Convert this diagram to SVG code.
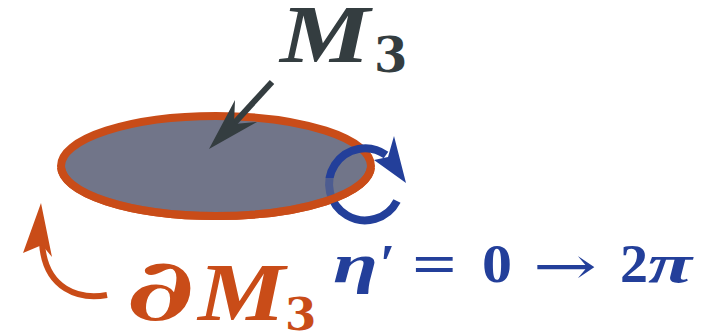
<svg xmlns="http://www.w3.org/2000/svg" width="708" height="336" viewBox="0 0 708 336">
<style>
.b{font-weight:bold}
.it{font-style:italic}
.dark{fill:#343d40}
.orange{fill:#c94c18}
.blue{fill:#233f9a}
.dvs{font-family:"DejaVu Serif",serif}
.lbs{font-family:"Liberation Serif","DejaVu Serif",serif}
</style>
<defs>
<clipPath id="front"><rect x="0" y="178" width="708" height="60"/></clipPath>
<clipPath id="frontStroke"><rect x="0" y="168" width="708" height="70"/></clipPath>
</defs>
<g id="surface">
<ellipse cx="216" cy="166" rx="155" ry="50" fill="#717589" stroke="#c94c18" stroke-width="8"/>
</g>
<g id="connectors">
<g id="loop-arrow">
<path d="M397,201 A36,36 0 1 1 386,155" fill="none" stroke="#233f9a" stroke-width="8"/>
<polygon points="394,136 406,183 374,160 388,157" fill="#233f9a"/>
</g>
<g id="m3-arrow">
<line x1="272" y1="82" x2="228" y2="130" stroke="#343d40" stroke-width="6"/>
<polygon points="209,149 235,100 234,124 257,122" fill="#343d40"/>
</g>
<g id="boundary-arrow">
<path d="M107,295 C80,300 45,290 42,243" fill="none" stroke="#c94c18" stroke-width="6"/>
<polygon points="41,203 52,257 42,245 23,253" fill="#c94c18"/>
</g>
</g>
<g id="surface-front">
<ellipse cx="216" cy="166" rx="155" ry="50" fill="#717589" fill-opacity="0.55" clip-path="url(#front)"/>
<ellipse cx="216" cy="166" rx="155" ry="50" fill="none" stroke="#c94c18" stroke-width="8" clip-path="url(#frontStroke)"/>
</g>
<g id="label-m3">
<text class="dark lbs b it" transform="translate(280,62) scale(1.22,1)" font-size="83">M</text>
<text class="dark dvs b" x="374" y="72" font-size="48">3</text>
</g>
<g id="label-boundary">
<text class="orange dvs b it" transform="translate(126,320) scale(1.5,1)" font-size="86">∂</text>
<text class="orange lbs b it" transform="translate(198,320) scale(1.18,1)" font-size="83">M</text>
<text class="orange dvs b" x="285" y="330" font-size="45">3</text>
</g>
<g id="label-eta" class="lbs b blue">
<text class="it" x="333" y="282" font-size="55" textLength="45" lengthAdjust="spacingAndGlyphs">η</text>
<text x="380" y="282" font-size="55">′</text>
<text x="412" y="282" font-size="55" textLength="45" lengthAdjust="spacingAndGlyphs">=</text>
<text x="482" y="282" font-size="55" textLength="30" lengthAdjust="spacingAndGlyphs">0</text>
<text class="dvs" x="533" y="284" font-size="52" font-weight="normal" textLength="64" lengthAdjust="spacingAndGlyphs">→</text>
<text x="620" y="282" font-size="55" textLength="28" lengthAdjust="spacingAndGlyphs">2</text>
<text class="it" x="648" y="282" font-size="55" textLength="44" lengthAdjust="spacingAndGlyphs">π</text>
</g>
</svg>
